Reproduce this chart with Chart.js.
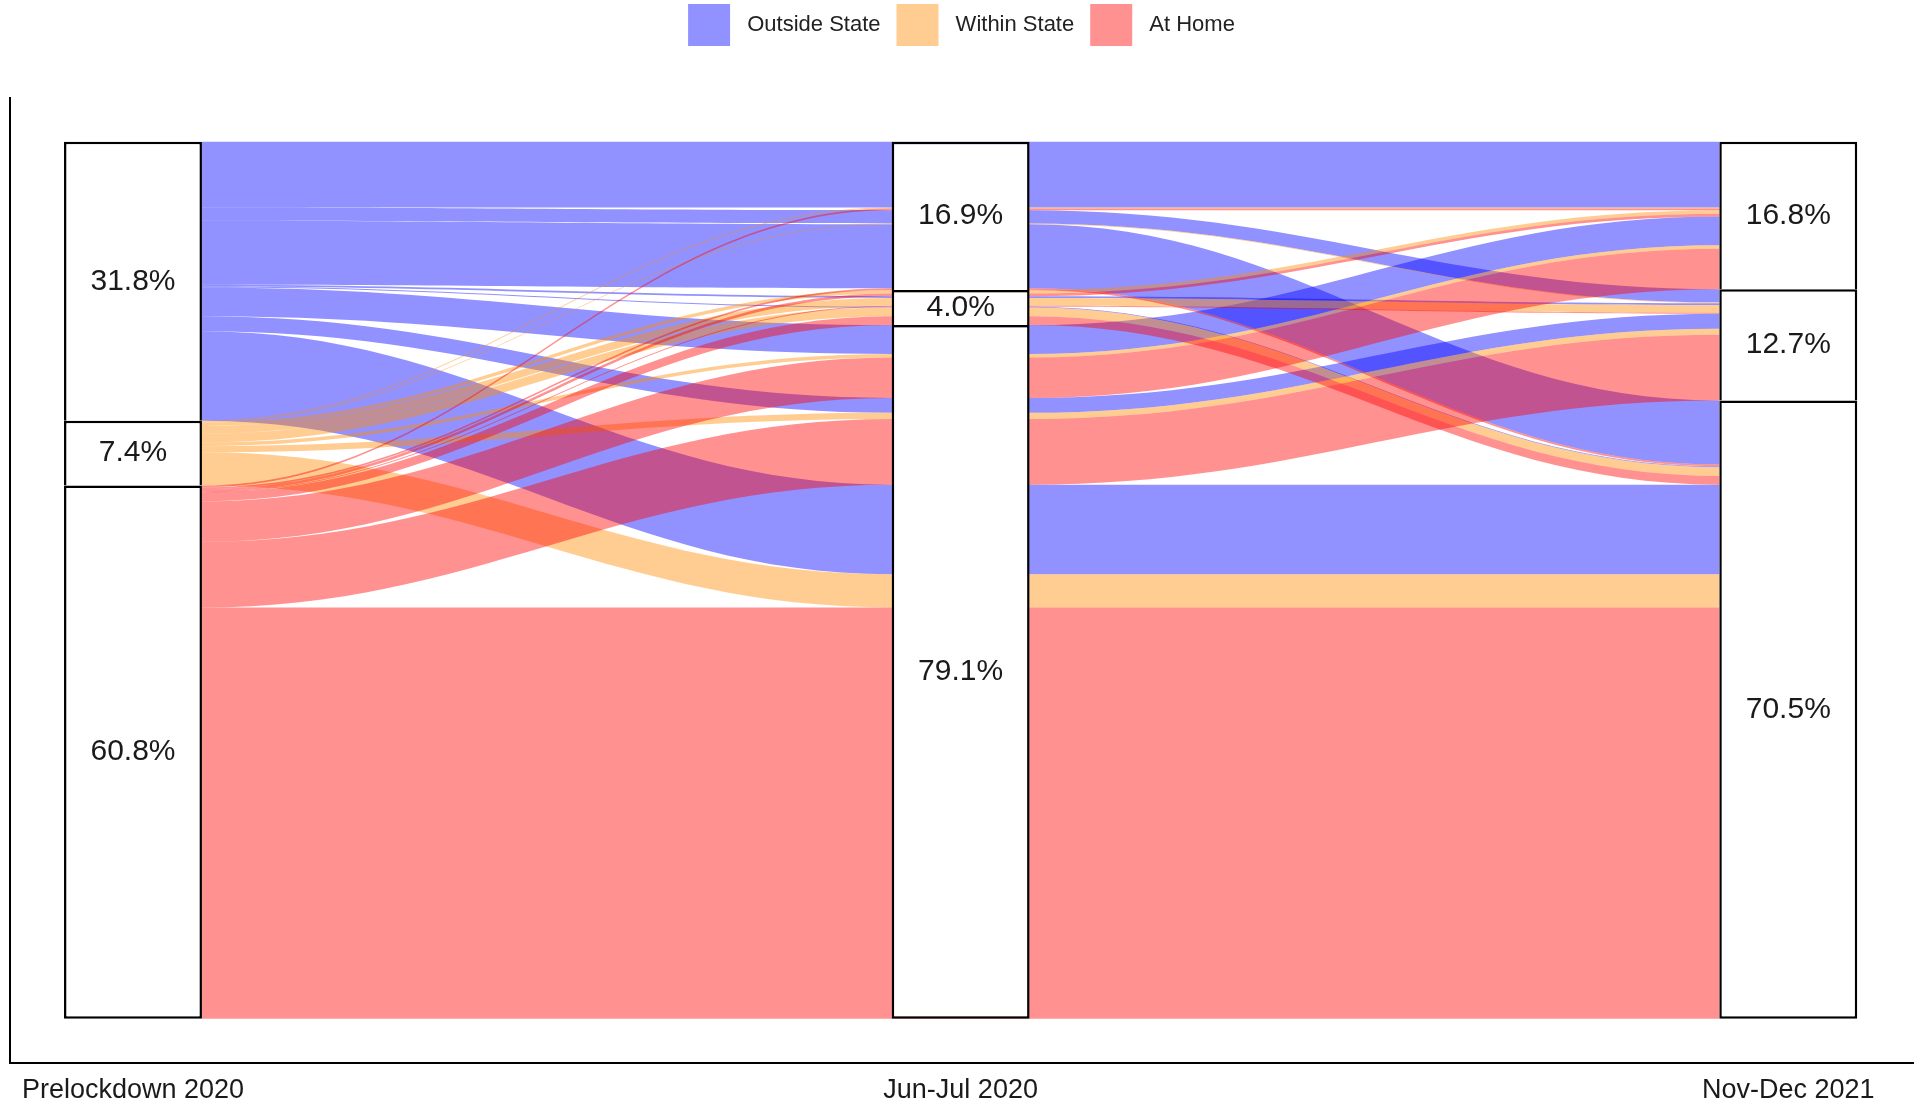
<!DOCTYPE html>
<html>
<head>
<meta charset="utf-8">
<script src="https://cdn.jsdelivr.net/npm/chart.js@4.4.1/dist/chart.umd.min.js"></script>
<style>
html,body{margin:0;padding:0;background:#fff;}
#wrap{width:1920px;height:1105px;}
</style>
</head>
<body>
<div id="wrap"><canvas id="c" width="1920" height="1105"></canvas></div>
<script>
// ---- data ----
const axisLabels = ['Prelockdown 2020', 'Jun-Jul 2020', 'Nov-Dec 2021'];
const strataNames = ['Outside State', 'Within State', 'At Home'];
const prelockdownPct = [31.8, 7.4, 60.8];
const junJulPct = [16.9, 4.0, 79.1];
const novDecPct = [16.8, 12.7, 70.5];
// each alluvium: stratum index (0 Outside, 1 Within, 2 At Home) at each time point, and its share (%)
const routePrelockdown = [0,0,0,0,0,0,0,0,0, 1,1,1,1,1,1,1,1,1, 2,2,2,2,2,2,2,2,2];
const routeJunJul      = [0,0,0,1,1,1,2,2,2, 0,0,0,1,1,1,2,2,2, 0,0,0,1,1,1,2,2,2];
const routeNovDec      = [0,1,2,0,1,2,0,1,2, 0,1,2,0,1,2,0,1,2, 0,1,2,0,1,2,0,1,2];
const routeWeights     = [7.5,1.5,7.3,0,0.2,0.1,3.3,1.7,10.2,
                          0.1,0.1,0,0.4,0.9,1.0,0.4,0.7,3.8,
                          0.2,0,0.2,0.3,0.1,1.0,4.6,7.5,46.9];

// ---- style ----
const flowColors = ['rgba(0,0,255,0.43)', 'rgba(255,138,0,0.43)', 'rgba(255,0,0,0.43)'];
const BOX_WIDTH = 1/6;
const KNOT = 0.4;
Chart.defaults.font.family = "'Liberation Sans', Arial, Helvetica, sans-serif";
Chart.defaults.color = '#1a1a1a';

const pctByAxis = [prelockdownPct, junJulPct, novDecPct];

function stratumTops(pcts) {
  let top = 100;
  return pcts.map(p => { const t = top; top -= p; return t; });
}

// box (stratum) floating bars
const boxData = [];
pctByAxis.forEach((pcts, a) => {
  const tops = stratumTops(pcts);
  pcts.forEach((p, s) => boxData.push({x: a + 1, y: [tops[s] - p, tops[s]], pct: p, s: s}));
});

// lode positions
function computeLodes() {
  const routes = routeWeights.map((w, i) => ({r: [routePrelockdown[i], routeJunJul[i], routeNovDec[i]], w: w, i: i}));
  const sortKeys = [[1, 2], [2, 0], [1, 0]];
  const pos = routes.map(() => [null, null, null]);
  for (let a = 0; a < 3; a++) {
    const cursor = stratumTops(pctByAxis[a]);
    const k = sortKeys[a];
    const sorted = routes.slice().sort((p, q) =>
      (p.r[a] - q.r[a]) || (p.r[k[0]] - q.r[k[0]]) || (p.r[k[1]] - q.r[k[1]]));
    for (const it of sorted) {
      const s = it.r[a];
      pos[it.i][a] = [cursor[s], cursor[s] - it.w];
      cursor[s] -= it.w;
    }
  }
  return {routes, pos};
}
const lodes = computeLodes();

const flowPlugin = {
  id: 'alluvialFlows',
  beforeDatasetsDraw(chart) {
    const {ctx, scales: {x, y}} = chart;
    const half = BOX_WIDTH / 2;
    const order = lodes.routes.slice().sort((p, q) => (p.r[0] - q.r[0]) || (p.i - q.i));
    ctx.save();
    for (const it of order) {
      if (it.w <= 0) continue;
      const p = lodes.pos[it.i];
      const xl = [], xr = [];
      for (let a = 0; a < 3; a++) {
        xl.push(x.getPixelForValue(a + 1 - half));
        xr.push(x.getPixelForValue(a + 1 + half));
      }
      const yt = p.map(v => y.getPixelForValue(v[0]));
      const yb = p.map(v => y.getPixelForValue(v[1]));
      ctx.beginPath();
      ctx.moveTo(xr[0], yt[0]);
      for (let a = 0; a < 2; a++) {
        const x0 = xr[a], x1 = xl[a + 1], dx = x1 - x0;
        ctx.bezierCurveTo(x0 + KNOT * dx, yt[a], x1 - KNOT * dx, yt[a + 1], x1, yt[a + 1]);
        if (a === 0) ctx.lineTo(xr[1], yt[1]);
      }
      ctx.lineTo(xl[2], yb[2]);
      for (let a = 1; a >= 0; a--) {
        const x0 = xr[a], x1 = xl[a + 1], dx = x1 - x0;
        ctx.bezierCurveTo(x1 - KNOT * dx, yb[a + 1], x0 + KNOT * dx, yb[a], x0, yb[a]);
        if (a === 1) ctx.lineTo(xl[1], yb[1]);
      }
      ctx.closePath();
      ctx.fillStyle = flowColors[it.r[0]];
      ctx.fill();
    }
    ctx.restore();
  },
  afterDatasetsDraw(chart) {
    const {ctx, scales: {x, y}} = chart;
    ctx.save();
    ctx.font = "30px 'Liberation Sans', Arial, sans-serif";
    ctx.fillStyle = '#1a1a1a';
    ctx.textAlign = 'center';
    ctx.textBaseline = 'middle';
    for (const b of boxData) {
      const px = x.getPixelForValue(b.x);
      const py = y.getPixelForValue((b.y[0] + b.y[1]) / 2);
      ctx.fillText(b.pct.toFixed(1) + '%', px, py);
    }
    ctx.restore();
  }
};

const legendDatasets = strataNames.map((name, i) => ({
  type: 'line', label: name, data: [], backgroundColor: flowColors[i], borderColor: flowColors[i], borderWidth: 0
}));

new Chart(document.getElementById('c'), {
  type: 'bar',
  data: {
    datasets: [
      ...legendDatasets,
      {
        type: 'bar',
        label: 'strata',
        data: boxData,
        backgroundColor: '#ffffff',
        borderColor: '#000000',
        borderSkipped: false,
        borderWidth: (c) => {
          const d = c.raw;
          const bottom = d && d.s === 2 ? 2.5 : 0;
          return {top: 2.5, left: 2.5, right: 2.5, bottom: bottom};
        },
        barPercentage: BOX_WIDTH,
        categoryPercentage: 1,
        grouped: false
      }
    ]
  },
  options: {
    responsive: false,
    devicePixelRatio: 1,
    animation: false,
    layout: {padding: {top: -12, left: 10, right: 7, bottom: -14}},
    plugins: {
      tooltip: {enabled: false},
      legend: {
        position: 'top',
        labels: {
          boxWidth: 42,
          boxHeight: 42,
          padding: 16,
          font: {size: 22},
          color: '#222',
          filter: (item) => item.datasetIndex < 3,
          generateLabels: (chart) => Chart.defaults.plugins.legend.labels.generateLabels(chart)
            .map(l => Object.assign(l, {text: ' ' + l.text, lineWidth: 0}))
        }
      }
    },
    scales: {
      x: {
        type: 'linear',
        position: 'bottom',
        min: 0.8514,
        max: 3.1507,
        offset: false,
        grid: {display: false, drawTicks: false},
        border: {display: true, color: '#000', width: 2},
        afterBuildTicks: (s) => { s.ticks = axisLabels.map((_, i) => ({value: i + 1})); },
        ticks: {
          autoSkip: false, maxRotation: 0, padding: 12,
          font: {size: 27}, color: '#1a1a1a',
          callback: (v) => axisLabels[Math.round(v) - 1] || ''
        }
      },
      xTop: {
        type: 'linear',
        position: 'top',
        display: true,
        grid: {display: false, drawTicks: false},
        border: {display: false},
        ticks: {display: false},
        afterFit: (s) => { s.height = 42; }
      },
      y: {
        type: 'linear',
        min: -5,
        max: 105,
        grid: {display: false, drawTicks: false},
        border: {display: true, color: '#000', width: 2},
        ticks: {display: false}
      }
    }
  },
  plugins: [flowPlugin]
});
</script>
</body>
</html>
